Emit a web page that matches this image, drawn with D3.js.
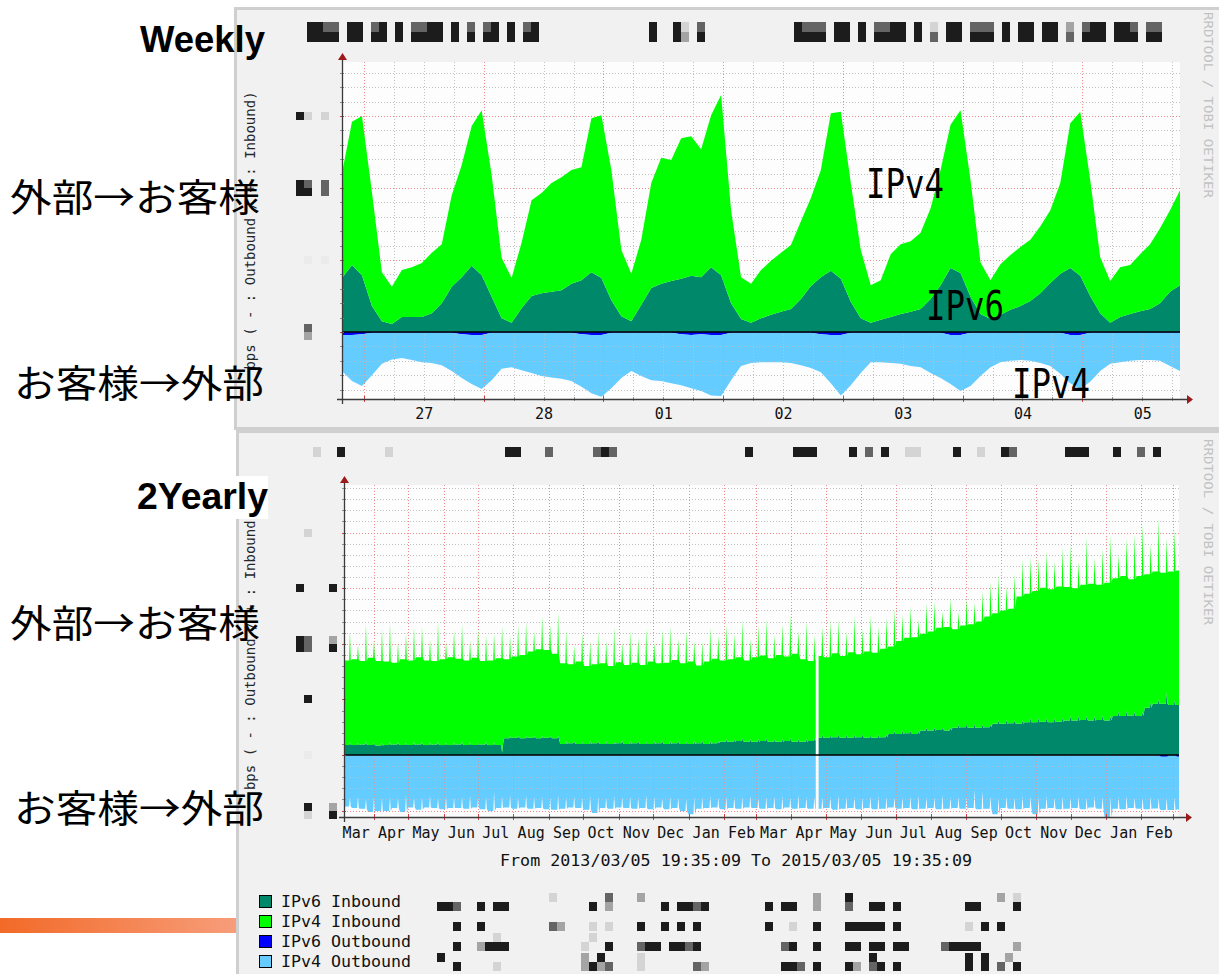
<!DOCTYPE html>
<html>
<head>
<meta charset="utf-8">
<title>Traffic weekly / 2 yearly</title>
<script src="https://cdn.jsdelivr.net/npm/d3@7"></script>
<style>
  html, body { margin: 0; padding: 0; background: #fff; }
  svg { display: block; }
  .mono { font-family: "DejaVu Sans Mono", monospace; }
  .jp { font-family: "Noto Sans CJK JP", sans-serif; }
</style>
</head>
<body>
<svg id="slide" width="1219" height="974"></svg>
<script>
// ---------- data : weekly graph (2 hour samples) ----------
const weeklyStart = new Date(2015, 1, 26, 19, 35, 9);
const weeklyEnd = new Date(2015, 2, 5, 19, 35, 9);
const weeklyStepHours = 2;
const weeklyDayLabels = ['27', '28', '01', '02', '03', '04', '05'];

const weeklyV6In = [75, 93, 79, 36, 15, 11, 21, 21, 21, 26,
  40, 63, 76, 92, 79, 49, 19, 13, 33, 50,
  54, 56, 58, 67, 72, 83, 75, 44, 22, 15,
  38, 61, 67, 71, 74, 78, 76, 90, 79, 40,
  18, 13, 19, 24, 28, 32, 46, 64, 76, 85,
  74, 42, 19, 13, 17, 21, 25, 28, 32, 46,
  65, 89, 82, 49, 25, 18, 24, 31, 36, 43,
  54, 68, 81, 89, 78, 50, 26, 13, 21, 25,
  29, 32, 40, 56, 65];
const weeklyV4In = [146, 199, 221, 158, 68, 52, 65, 69, 75, 84,
  82, 127, 156, 194, 229, 169, 84, 62, 91, 133,
  139, 151, 157, 158, 157, 214, 226, 181, 92, 66,
  90, 146, 175, 168, 195, 194, 178, 211, 250, 129,
  58, 54, 67, 75, 82, 89, 108, 122, 149, 219,
  232, 165, 95, 52, 55, 87, 97, 98, 106, 126,
  160, 199, 226, 162, 72, 54, 70, 76, 82, 85,
  93, 101, 126, 201, 228, 161, 78, 58, 69, 68,
  79, 90, 104, 113, 132];
const weeklyV6Out = [4, 4, 3, 1, 1, 1, 1, 1, 1, 1,
  1, 1, 3, 4, 4, 1, 1, 1, 1, 1,
  1, 1, 1, 1, 3, 4, 4, 1, 1, 1,
  1, 1, 1, 1, 3, 4, 3, 4, 4, 1,
  1, 1, 1, 1, 1, 1, 1, 1, 3, 4,
  4, 1, 1, 1, 1, 1, 1, 1, 1, 1,
  1, 4, 4, 1, 1, 1, 1, 1, 1, 1,
  1, 1, 1, 4, 4, 1, 1, 1, 1, 1,
  1, 1, 1, 1, 1];
const weeklyV4Out = [50, 64, 72, 59, 43, 37, 35, 38, 41, 42,
  45, 53, 61, 68, 75, 66, 50, 48, 52, 56,
  60, 62, 64, 67, 73, 81, 86, 77, 63, 53,
  60, 66, 67, 70, 71, 74, 79, 84, 85, 66,
  46, 42, 41, 41, 41, 42, 45, 49, 53, 67,
  84, 73, 56, 41, 41, 42, 43, 46, 48, 56,
  63, 68, 78, 74, 60, 48, 41, 39, 38, 39,
  42, 46, 57, 67, 75, 68, 53, 43, 41, 39,
  38, 38, 39, 46, 53];

// ---------- data : 2 yearly graph (per week: [weekday, weekend]) ----------
const yearlyStart = new Date(2013, 2, 5, 19, 35, 9);
const yearlyEnd = new Date(2015, 2, 5, 19, 35, 9);
const yearlyMonthLabels = ['Mar', 'Apr', 'May', 'Jun', 'Jul', 'Aug', 'Sep', 'Oct', 'Nov', 'Dec', 'Jan', 'Feb',
  'Mar', 'Apr', 'May', 'Jun', 'Jul', 'Aug', 'Sep', 'Oct', 'Nov', 'Dec', 'Jan', 'Feb'];

const yearlyV6In = [[18, 23], [18, 22], [19, 24], [18, 23], [17, 22], [18, 24], [19, 23], [18, 22], [18, 24], [19, 23],
  [18, 23], [19, 24], [18, 22], [18, 23], [19, 24], [18, 23], [18, 22], [19, 24], [18, 23],
  [18, 4],
  [30, 34], [31, 35], [30, 34], [31, 34], [30, 35], [31, 34], [30, 34],
  [20, 25], [21, 25], [20, 24], [20, 26], [21, 25], [20, 25], [20, 24], [21, 26], [20, 25], [21, 25],
  [20, 24], [20, 25], [21, 26], [20, 25], [21, 25], [20, 24], [20, 25], [21, 26], [20, 25], [21, 25],
  [24, 29], [24, 28], [25, 30], [24, 29], [24, 29], [25, 30], [24, 28], [24, 29], [25, 30], [24, 29], [24, 29], [25, 30],
  [31, 36], [31, 35], [32, 37], [31, 36], [31, 36], [32, 37], [31, 35], [31, 36], [32, 37],
  [38, 43], [38, 44], [39, 43], [38, 43],
  [44, 49], [44, 50], [45, 49], [44, 49],
  [49, 55], [50, 55], [49, 56], [49, 55], [50, 55],
  [56, 62], [56, 63], [57, 62], [56, 62],
  [59, 66], [59, 67], [60, 66], [59, 66], [60, 67],
  [62, 70], [62, 71], [63, 70], [62, 70], [63, 71], [62, 70],
  [70, 78], [70, 79], [71, 78], [70, 78],
  [85, 95], [92, 100], [92, 113], [90, 98], [90, 98]];
const yearlyV4In = [[152, 199], [154, 176], [150, 212], [157, 184], [152, 205],
  [150, 214], [147, 180], [154, 196], [152, 206],
  [157, 208], [152, 185], [150, 216], [154, 181], [158, 202],
  [154, 211], [152, 182], [157, 204], [150, 190],
  [152, 196], [156, 228], [142, 180], [146, 198],
  [150, 205], [155, 188], [160, 214], [158, 200], [152, 222],
  [145, 200], [142, 172], [148, 194], [140, 178],
  [142, 196], [145, 180], [140, 206], [146, 176], [142, 198],
  [145, 186], [142, 204], [148, 178], [144, 200],
  [146, 206], [150, 184], [145, 200], [148, 180],
  [140, 178], [148, 204], [152, 190], [146, 206],
  [148, 190], [151, 212], [146, 180], [152, 204],
  [154, 214], [150, 188], [156, 206], [152, 222], [158, 194],
  [148, 212], [144, 186], [147, 194], [145, 208],
  [151, 206], [147, 186], [154, 214], [149, 190],
  [155, 216], [153, 194], [159, 210], [157, 220],
  [167, 208], [172, 224], [174, 200], [174, 224],
  [178, 226], [184, 208], [186, 234], [177, 202],
  [183, 226], [186, 218], [191, 240], [199, 256],
  [199, 262], [204, 240], [206, 264], [229, 290],
  [231, 290], [236, 286], [241, 300], [239, 282], [243, 306],
  [240, 308], [238, 276], [243, 322], [246, 284],
  [243, 300], [248, 326], [248, 282], [252, 310], [245, 320],
  [252, 338], [240, 284], [238, 326], [236, 276], [240, 308], [242, 290]];
const yearlyV6Out = [0.5, 0.5, 0.5, 0.5, 0.5, 0.5, 0.5, 0.5, 0.5, 0.5, 0.5, 0.5, 0.5, 0.5, 0.5,
  0.5, 0.5, 0.5, 0.5, 0.5, 0.5, 0.5, 0.5, 0.5, 0.5, 0.5, 0.5, 0.5, 0.5, 0.5,
  0.5, 0.5, 0.5, 0.5, 0.5, 0.5, 0.5, 0.5, 0.5, 0.5, 0.5, 0.5, 0.5, 0.5, 0.5,
  0.5, 0.5, 0.5, 0.5, 0.5, 0.5, 0.5, 0.5, 0.5, 0.5, 0.5, 0.5, 0.5, 0.5, 0.5,
  0.5, 0.5, 0.5, 0.5, 0.5, 0.5, 0.5, 0.5, 0.5, 0.5, 0.5, 0.5, 0.5, 0.5, 0.5,
  0.5, 0.5, 0.5, 0.5, 0.5, 0.5, 0.5, 0.5, 0.5, 0.5, 0.5, 0.5, 0.5, 0.5, 0.5,
  0.5, 0.5, 0.5, 0.5, 0.5, 0.5, 0.5, 0.5, 0.5, 0.5, 0.5, 1, 3, 1, 3];
const yearlyV4Out = [[92, 76], [95, 74], [96, 78], [102, 75], [100, 77],
  [100, 74], [95, 77], [102, 72], [94, 76],
  [98, 75], [94, 73], [95, 77], [97, 74], [95, 76],
  [95, 74], [96, 72], [94, 76], [97, 75],
  [100, 66], [95, 74], [94, 72], [96, 75],
  [94, 73], [96, 75], [95, 74], [97, 76], [98, 72],
  [96, 75], [94, 74], [95, 76], [98, 73],
  [104, 74], [95, 76], [96, 73], [94, 75], [95, 74],
  [96, 75], [95, 72], [97, 74], [94, 76],
  [97, 74], [95, 76], [100, 78], [106, 75],
  [96, 75], [95, 73], [94, 76], [97, 74],
  [95, 74], [96, 75], [94, 73], [95, 76],
  [96, 75], [95, 74], [97, 73], [94, 76], [96, 72],
  [95, 74], [96, 75], [96, 76], [95, 74],
  [98, 72], [96, 75], [95, 74], [97, 76],
  [95, 74], [97, 73], [96, 75], [94, 76],
  [96, 75], [95, 74], [97, 73], [96, 75],
  [95, 76], [97, 72], [96, 74], [95, 75],
  [96, 74], [95, 63], [97, 65], [96, 74],
  [106, 75], [95, 74], [96, 76], [97, 73],
  [95, 74], [106, 75], [96, 73], [95, 76], [97, 74],
  [96, 75], [95, 74], [97, 76], [94, 73], [96, 75], [112, 74],
  [96, 74], [97, 73], [95, 76], [96, 75],
  [97, 74], [95, 76], [96, 73], [98, 75], [95, 74]];
// unknown data (nothing recorded)
const yearlyGaps = [[new Date(2014, 3, 22, 6), new Date(2014, 3, 24, 18)]];

const legendItems = [
  { label: 'IPv6 Inbound', key: 'v6in' },
  { label: 'IPv4 Inbound', key: 'v4in' },
  { label: 'IPv6 Outbound', key: 'v6out' },
  { label: 'IPv4 Outbound', key: 'v4out' }
];

// ---------- look ----------
const colors = { v6in: '#00886a', v4in: '#00ff00', v6out: '#0000ff', v4out: '#66ccff' };
const shadeColor = { '0': '#ebebeb', '1': '#d4d4d4', '2': '#a4a4a4', '3': '#646464', '4': '#1c1c1c' };
const svg = d3.select('#slide');
const defs = svg.append('defs');

// within-week shape of the 2 yearly samples: [day offset, 0 = weekday value / 1 = weekend value]
const weekShape = [[0, 0], [4.5, 0], [5.2, 1], [5.9, 0]];

function weeklyPoints() {
  return weeklyV6In.map((v, i) => ({
    t: d3.timeHour.offset(weeklyStart, i * weeklyStepHours),
    v6in: v, v4in: weeklyV4In[i], v6out: weeklyV6Out[i], v4out: weeklyV4Out[i]
  }));
}

function yearlyPoints() {
  const pts = [];
  yearlyV4In.forEach((_, k) => {
    weekShape.forEach(([day, w]) => {
      const t = new Date(+yearlyStart + (k * 7 + day) * 864e5);
      if (t > yearlyEnd) return;
      pts.push({ t, v6in: yearlyV6In[k][w], v4in: yearlyV4In[k][w], v6out: yearlyV6Out[k], v4out: yearlyV4Out[k][w] });
    });
  });
  const last = yearlyV4In.length - 1;
  pts.push({ t: yearlyEnd, v6in: yearlyV6In[last][0], v4in: yearlyV4In[last][0], v6out: yearlyV6Out[last], v4out: yearlyV4Out[last][0] });
  return pts;
}

// redacted text drawn as grey mosaic cells
function mosaicString(parent, x0, y0, str, cw, ch) {
  const cells = [];
  [...str].forEach((c, i) => { if (c !== ' ') cells.push([i, c]); });
  mosaicCells(parent, x0, y0, cells, cw, ch);
}
function mosaicCells(parent, x0, y0, cells, cw, ch) {
  parent.append('g').selectAll('rect').data(cells).join('rect')
    .attr('x', d => x0 + d[0] * cw).attr('y', y0)
    .attr('width', cw).attr('height', ch)
    .attr('fill', d => shadeColor[d[1]]);
}

// ---------- slide background ----------
const grad = defs.append('linearGradient').attr('id', 'orangeBar');
grad.append('stop').attr('offset', '0%').attr('stop-color', '#f26a28');
grad.append('stop').attr('offset', '100%').attr('stop-color', '#f79d7a');
svg.append('rect').attr('x', 0).attr('y', 918).attr('width', 237).attr('height', 15).attr('fill', 'url(#orangeBar)');

svg.append('rect').attr('x', 235.5).attr('y', 8.5).attr('width', 1000).attr('height', 420)
  .attr('fill', '#f1f1f1').attr('stroke', '#cfcfcf').attr('stroke-width', 3);
svg.append('rect').attr('x', 237.5).attr('y', 431.5).attr('width', 1000).attr('height', 560)
  .attr('fill', '#f1f1f1').attr('stroke', '#cfcfcf').attr('stroke-width', 3);

// ---------- one rrd style graph ----------
function drawGraph(cfg) {
  const { x, y, points, id } = cfg;
  const [x0, x1] = x.range();
  const [yb, yt] = y.range();
  const g = svg.append('g');

  g.append('rect').attr('x', x0).attr('y', yt).attr('width', x1 - x0).attr('height', yb - yt).attr('fill', '#fdfdfd');

  function grid(parent) {
    const gg = parent.append('g');
    const hv = d3.range(cfg.yMinorStart, y.domain()[1], cfg.yMinorStep);
    gg.selectAll('.hg').data(hv).join('line')
      .attr('x1', x0).attr('x2', x1)
      .attr('y1', d => Math.round(y(d)) + 0.5).attr('y2', d => Math.round(y(d)) + 0.5)
      .attr('stroke', d => d % cfg.yMajorStep === 0 ? '#f08a8a' : '#c2c2c2')
      .attr('stroke-dasharray', '1,2');
    gg.selectAll('.vmin').data(cfg.xMinor).join('line')
      .attr('x1', d => Math.round(x(d)) + 0.5).attr('x2', d => Math.round(x(d)) + 0.5)
      .attr('y1', yt).attr('y2', yb)
      .attr('stroke', '#c2c2c2').attr('stroke-dasharray', '1,2');
    gg.selectAll('.vmaj').data(cfg.xMajor).join('line')
      .attr('x1', d => Math.round(x(d)) + 0.5).attr('x2', d => Math.round(x(d)) + 0.5)
      .attr('y1', yt).attr('y2', yb)
      .attr('stroke', '#f08a8a').attr('stroke-dasharray', '1,2');
    return gg;
  }
  grid(g);

  const layers = [
    { key: 'v6in', lo: d => 0, hi: d => d.v6in },
    { key: 'v4in', lo: d => d.v6in, hi: d => d.v6in + d.v4in },
    { key: 'v6out', lo: d => 0, hi: d => -d.v6out },
    { key: 'v4out', lo: d => -d.v6out, hi: d => -d.v6out - d.v4out }
  ];
  const paths = {};
  layers.forEach(l => {
    const area = d3.area().x(d => x(d.t)).y0(d => y(l.lo(d))).y1(d => y(l.hi(d)));
    paths[l.key] = area(points);
    g.append('path').attr('d', paths[l.key]).attr('fill', colors[l.key]);
  });

  // grid shows through the outbound area in rrdtool
  defs.append('clipPath').attr('id', id + 'Out').append('path').attr('d', paths.v4out);
  grid(g.append('g').attr('clip-path', `url(#${id}Out)`).attr('opacity', 0.75));

  // unknown data
  g.selectAll('.gap').data(cfg.gaps || []).join('rect')
    .attr('x', d => x(d[0])).attr('width', d => x(d[1]) - x(d[0]))
    .attr('y', yt).attr('height', yb - yt).attr('fill', '#fdfdfd');

  // zero line
  g.append('line').attr('x1', x0).attr('x2', x1).attr('y1', y(0)).attr('y2', y(0))
    .attr('stroke', '#000').attr('stroke-width', 1.6);

  // axes with arrows
  const axisColor = '#3a3a3a', arrowColor = '#9c1a1a';
  const ticksY = d3.range(cfg.yMinorStart, y.domain()[1], cfg.yMinorStep);
  g.selectAll('.yt').data(ticksY).join('line')
    .attr('x1', x0 - 2).attr('x2', x0 + 2)
    .attr('y1', d => Math.round(y(d)) + 0.5).attr('y2', d => Math.round(y(d)) + 0.5)
    .attr('stroke', d => d % cfg.yMajorStep === 0 ? '#d04040' : '#909090');
  g.selectAll('.xtm').data(cfg.xMinor).join('line')
    .attr('x1', d => Math.round(x(d)) + 0.5).attr('x2', d => Math.round(x(d)) + 0.5)
    .attr('y1', yb - 2).attr('y2', yb + 2).attr('stroke', '#909090');
  g.selectAll('.xtM').data(cfg.xMajor).join('line')
    .attr('x1', d => Math.round(x(d)) + 0.5).attr('x2', d => Math.round(x(d)) + 0.5)
    .attr('y1', yb - 3).attr('y2', yb + 3).attr('stroke', '#d04040');
  g.append('line').attr('x1', x0 - 5).attr('x2', x1 + 8).attr('y1', yb + 0.5).attr('y2', yb + 0.5)
    .attr('stroke', axisColor).attr('stroke-width', 1.3);
  g.append('line').attr('x1', x0 + 0.5).attr('x2', x0 + 0.5).attr('y1', yb + 5).attr('y2', yt - 3)
    .attr('stroke', axisColor).attr('stroke-width', 1.3);
  g.append('path').attr('d', `M${x1 + 7},${yb - 4}L${x1 + 13},${yb + 0.5}L${x1 + 7},${yb + 5}Z`).attr('fill', arrowColor);
  g.append('path').attr('d', `M${x0 - 4},${yt - 2}L${x0 + 0.5},${yt - 9}L${x0 + 5},${yt - 2}Z`).attr('fill', arrowColor);

  // x labels
  const ax = d3.axisBottom(x).tickValues(cfg.labelDates).tickFormat((d, i) => cfg.labels[i])
    .tickSize(0).tickPadding(cfg.labelPad);
  const axg = g.append('g').attr('transform', `translate(0,${yb})`).call(ax);
  axg.select('.domain').remove();
  axg.selectAll('text').attr('class', 'mono').attr('font-size', 15).attr('fill', '#111');

  // y label
  g.append('text').attr('class', 'mono').attr('font-size', 14).attr('fill', '#262626')
    .attr('text-anchor', 'middle')
    .attr('transform', `translate(${cfg.ylabelX},${(yb + yt) / 2}) rotate(-90)`)
    .text('bps ( - : Outbound / + : Inbound)');

  // redacted y tick labels
  cfg.tickBlocks.forEach(tb => {
    const cy = Math.round(y(tb.v));
    const top = tb.rows.length === 1 ? cy - 4 : cy - 8;
    tb.rows.forEach((row, r) => {
      mosaicCells(g, x0, top + r * 8, row.map(c => [c[0] / 8, c[1]]), 8, 8);
    });
  });

  // watermark
  g.append('text').attr('class', 'mono').attr('font-size', 12.5).attr('fill', '#c2c2c2')
    .attr('transform', `translate(1204,${cfg.markY}) rotate(90)`)
    .attr('textLength', 186).attr('lengthAdjust', 'spacingAndGlyphs')
    .text('RRDTOOL / TOBI OETIKER');
  return g;
}

// ---------- weekly ----------
const wx = d3.scaleTime().domain([weeklyStart, weeklyEnd]).range([342, 1180]);
const wy = d3.scaleLinear().domain([-93, 375]).range([399, 62]);
const wDays = d3.timeDay.range(d3.timeDay.ceil(weeklyStart), weeklyEnd);
drawGraph({
  id: 'weekly', x: wx, y: wy, points: weeklyPoints(),
  yMinorStart: -80, yMinorStep: 20, yMajorStep: 100,
  xMajor: wDays,
  xMinor: d3.timeHour.every(6).range(weeklyStart, weeklyEnd).filter(d => d.getHours() !== 0),
  labelDates: wDays.map(d => d3.timeHour.offset(d, 12)), labels: weeklyDayLabels, labelPad: 9,
  ylabelX: 255, markY: 12,
  tickBlocks: [
    { v: 300, rows: [[[-46, '4'], [-38, '1'], [-21, '1']]] },
    { v: 200, rows: [[[-46, '4'], [-38, '3'], [-21, '3']], [[-46, '4'], [-38, '4'], [-21, '3']]] },
    { v: 100, rows: [[[-38, '0'], [-21, '0']]] },
    { v: 0, rows: [[[-38, '3']], [[-38, '2']]] }
  ]
});

// ---------- 2 yearly ----------
const yx = d3.scaleTime().domain([yearlyStart, yearlyEnd]).range([344, 1179]);
const yy = d3.scaleLinear().domain([-111.5, 485.6]).range([817, 485]);
const yMonths = d3.timeMonth.range(d3.timeMonth.floor(yearlyStart), d3.timeMonth.floor(yearlyEnd));
drawGraph({
  id: 'yearly', x: yx, y: yy, points: yearlyPoints(), gaps: yearlyGaps,
  yMinorStart: -100, yMinorStep: 20, yMajorStep: 100,
  xMajor: d3.timeMonth.range(yearlyStart, yearlyEnd), xMinor: [],
  labelDates: yMonths.map(d => d3.timeDay.offset(d, 15)), labels: yearlyMonthLabels, labelPad: 10,
  ylabelX: 255, markY: 439,
  tickBlocks: [
    { v: 400, rows: [[[-40, '1']]] },
    { v: 300, rows: [[[-48, '4'], [-15, '4']]] },
    { v: 200, rows: [[[-48, '4'], [-40, '3'], [-15, '2']], [[-48, '4'], [-40, '3'], [-15, '4']]] },
    { v: 100, rows: [[[-40, '4']]] },
    { v: 0, rows: [[[-40, '0']]] },
    { v: -100, rows: [[[-40, '4'], [-15, '2']], [[-40, '1'], [-15, '4']]] }
  ]
});

svg.append('text').attr('class', 'mono').attr('font-size', 15.5).attr('fill', '#111')
  .attr('text-anchor', 'middle').attr('x', 736).attr('y', 866)
  .attr('textLength', 472).attr('lengthAdjust', 'spacingAndGlyphs')
  .text('From 2013/03/05 19:35:09 To 2015/03/05 19:35:09');

// ---------- legend ----------
const legend = svg.append('g');
legendItems.forEach((item, i) => {
  const cy = 901 + i * 20;
  legend.append('rect').attr('x', 259.5).attr('y', cy - 5.5).attr('width', 12).attr('height', 12)
    .attr('fill', colors[item.key]).attr('stroke', '#000');
  legend.append('text').attr('class', 'mono').attr('font-size', 15).attr('fill', '#111')
    .attr('x', 281).attr('y', cy + 6)
    .attr('textLength', item.label.length * 10).attr('lengthAdjust', 'spacingAndGlyphs')
    .text(item.label);
});

// redacted legend values (upper / lower half cells, 8 px wide from x = 437)
const legendMosaic = [
  { upper: [[14, '1'], [21, '3'], [25, '2'], [47, '2'], [51, '4'], [70, '2'], [72, '1']],
    lower: [[0, '4'], [1, '4'], [2, '3'], [5, '4'], [7, '4'], [8, '4'], [19, '4'], [21, '2'], [28, '4'], [30, '4'], [31, '4'], [32, '3'], [33, '4'], [41, '4'], [43, '4'], [44, '4'], [47, '2'], [51, '3'], [54, '4'], [55, '4'], [57, '4'], [66, '4'], [67, '4'], [72, '4']] },
  { upper: [],
    lower: [[2, '4'], [5, '4'], [14, '3'], [15, '2'], [19, '1'], [21, '1'], [25, '4'], [28, '4'], [30, '4'], [32, '4'], [41, '4'], [44, '1'], [47, '4'], [51, '4'], [52, '4'], [53, '4'], [54, '4'], [55, '4'], [57, '4'], [66, '1'], [68, '4'], [70, '4']] },
  { upper: [[7, '1'], [19, '1']],
    lower: [[2, '4'], [5, '2'], [6, '4'], [7, '4'], [8, '4'], [18, '1'], [21, '4'], [25, '3'], [26, '4'], [27, '4'], [29, '4'], [30, '4'], [31, '3'], [32, '4'], [43, '3'], [44, '4'], [47, '4'], [51, '4'], [52, '4'], [54, '4'], [55, '4'], [57, '4'], [58, '4'], [63, '3'], [64, '4'], [65, '4'], [66, '4'], [67, '4'], [72, '2']] },
  { upper: [[0, '4'], [18, '2'], [20, '4'], [25, '1'], [54, '4'], [66, '4'], [68, '4'], [71, '2']],
    lower: [[2, '4'], [7, '1'], [18, '2'], [19, '4'], [20, '2'], [21, '3'], [25, '1'], [32, '3'], [33, '2'], [43, '4'], [44, '4'], [45, '3'], [47, '4'], [51, '4'], [52, '2'], [54, '3'], [55, '4'], [57, '4'], [66, '4'], [68, '4'], [70, '3'], [72, '4']] }
];
legendMosaic.forEach((row, i) => {
  const cy = 901 + i * 20;
  mosaicCells(legend, 437, cy - 8, row.upper, 8, 9);
  mosaicCells(legend, 437, cy + 1, row.lower, 8, 9);
});

// redacted graph titles
const weeklyTitle = [
  { x: 307, rows: ['4433 44 34 4 3344 4 3 34 4 34', '4444 44 44 4 4444 4 4 44 4 44'] },
  { x: 649, rows: ['4  41 3', '4  42 4'] },
  { x: 794, rows: ['4333 44 4 3344 4 1 44 333 4 44 44 2 344 443 33', '4444 44 4 4444 4 3 44 444 4 44 44 3 444 444 44'] }
];
weeklyTitle.forEach(seg => seg.rows.forEach((r, i) => mosaicString(svg, seg.x, 22 + i * 10, r, 8, 10)));
const yearlyTitleCells = [[0, '1'], [3, '4'], [9, '1'], [24, '4'], [25, '4'], [29, '3'], [35, '3'], [36, '4'], [37, '3'],
  [54, '4'], [60, '4'], [61, '4'], [62, '4'], [67, '4'], [69, '3'], [71, '4'], [74, '1'], [75, '1'], [80, '4'], [83, '1'],
  [86, '4'], [87, '3'], [94, '4'], [95, '4'], [96, '4'], [100, '4'], [103, '3'], [105, '4']];
mosaicCells(svg, 313, 447, yearlyTitleCells, 8, 10);

// ---------- slide annotations ----------
const notes = svg.append('g');
notes.append('text').attr('x', 140).attr('y', 52)
  .attr('font-family', '"Liberation Sans", Arial, sans-serif').attr('font-weight', 'bold').attr('font-size', 37)
  .attr('textLength', 125).attr('lengthAdjust', 'spacingAndGlyphs').text('Weekly');
notes.append('rect').attr('x', 130).attr('y', 476).attr('width', 138).attr('height', 43).attr('fill', '#fff');
notes.append('text').attr('x', 137).attr('y', 509)
  .attr('font-family', '"Liberation Sans", Arial, sans-serif').attr('font-weight', 'bold').attr('font-size', 37)
  .attr('textLength', 131).attr('lengthAdjust', 'spacingAndGlyphs').text('2Yearly');

const jpNotes = [
  { text: '外部→お客様', x: 10, y: 211 },
  { text: 'お客様→外部', x: 14, y: 397 },
  { text: '外部→お客様', x: 10, y: 637 },
  { text: 'お客様→外部', x: 14, y: 822 }
];
notes.selectAll('.jpn').data(jpNotes).join('text').attr('class', 'jp')
  .attr('x', d => d.x).attr('y', d => d.y).attr('font-size', 38).attr('fill', '#000')
  .attr('textLength', 250).attr('lengthAdjust', 'spacingAndGlyphs')
  .text(d => d.text);

const ipNotes = [
  { text: 'IPv4', x: 866, y: 198 },
  { text: 'IPv6', x: 926, y: 320 },
  { text: 'IPv4', x: 1012, y: 398 }
];
notes.selectAll('.ipn').data(ipNotes).join('text').attr('class', 'mono')
  .attr('x', d => d.x).attr('y', d => d.y).attr('font-size', 40).attr('fill', '#000')
  .attr('textLength', 78).attr('lengthAdjust', 'spacingAndGlyphs')
  .text(d => d.text);
</script>
</body>
</html>
